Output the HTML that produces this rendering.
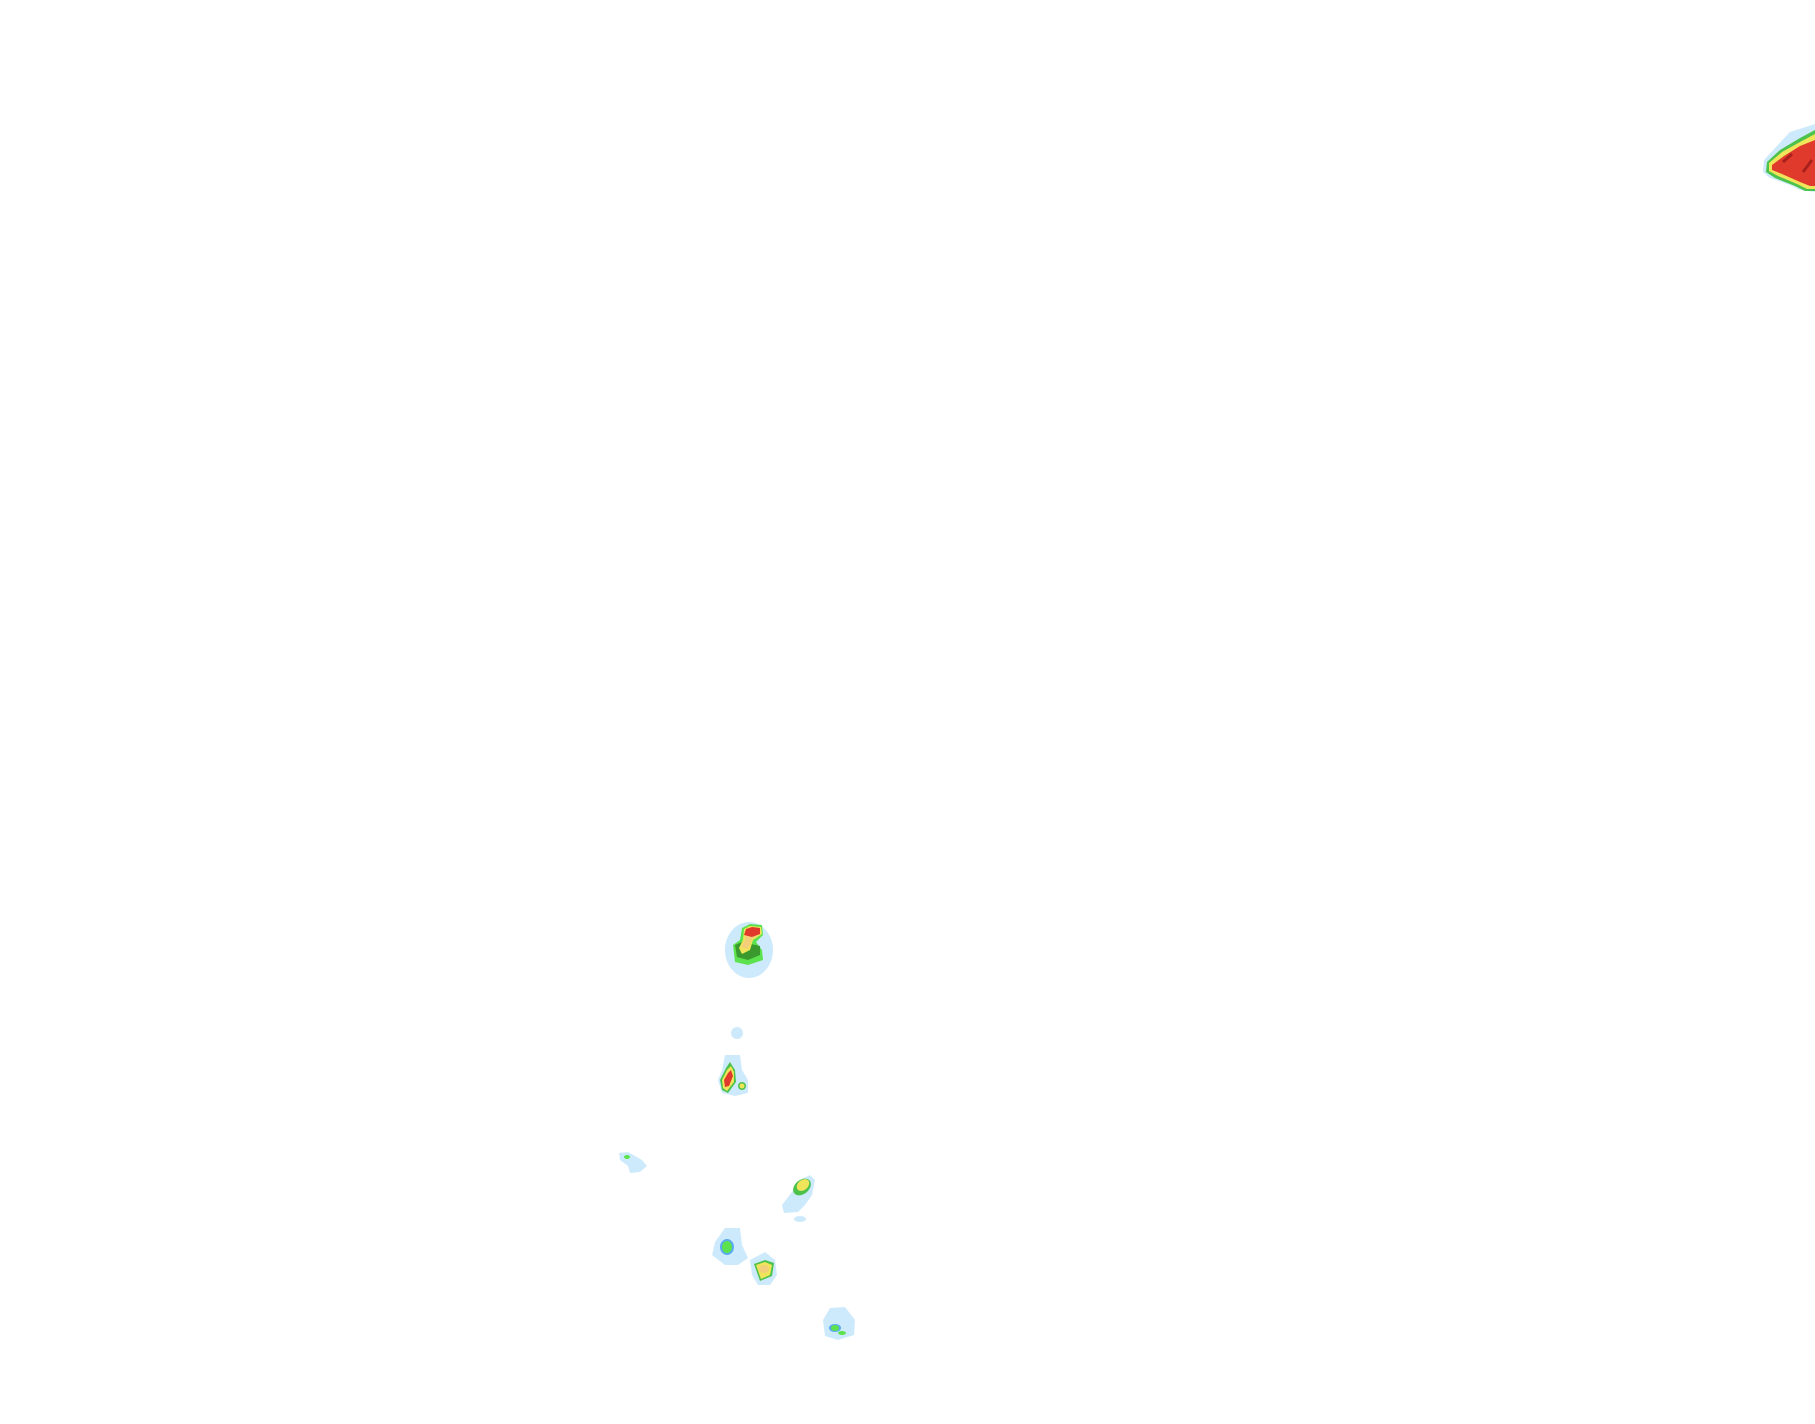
<!DOCTYPE html>
<html><head><meta charset="utf-8"><style>html,body{margin:0;padding:0;background:#fff;width:1815px;height:1424px;overflow:hidden}</style></head>
<body>
<svg width="1815" height="1424" viewBox="0 0 1815 1424" xmlns="http://www.w3.org/2000/svg">
<!-- top right -->
<path d="M1815,124 L1790,132 L1775,148 L1764,160 L1763,172 L1770,178 L1790,185 L1800,190 L1815,192 Z" fill="#cdeafc"/>
<path d="M1815,130 L1800,138 L1780,150 L1767,162 L1766,172 L1775,178 L1795,186 L1805,191 L1815,191 Z" fill="#4cc24c"/>
<path d="M1815,134 L1800,142 L1782,152 L1769,163 L1769,171 L1778,176 L1797,184 L1807,189 L1815,189 Z" fill="#f0e45a"/>
<path d="M1815,140 L1800,146 L1784,156 L1772,165 L1772,170 L1782,174 L1800,182 L1810,186 L1815,186 Z" fill="#e03a2c"/>
<path d="M1783,162 L1792,154 M1803,172 L1812,160" stroke="#a8201c" stroke-width="3"/>
<!-- blob 1 -->
<ellipse cx="749" cy="950" rx="24" ry="28" fill="#cdeafc"/>
<path d="M733,945 L740,940 L742,928 L750,924 L762,925 L763,935 L756,942 L762,950 L763,960 L748,965 L735,962 Z" fill="#5ce24c"/>
<path d="M735,945 L742,942 L760,946 L760,955 L748,960 L737,957 Z" fill="#3a9a2e"/>
<path d="M739,948 L743,940 L744,929 L750,926 L761,927 L762,934 L753,940 L750,950 L742,954 Z" fill="#f0e45a"/>
<path d="M741,947 L745,940 L746,931 L752,928 L760,929 L760,934 L752,939 L748,949 Z" fill="#f3cf7a"/>
<path d="M744,935 L746,929 L752,927 L760,928 L760,934 L752,937 Z" fill="#e03a2c"/>
<!-- small dot -->
<circle cx="737" cy="1033" r="6" fill="#cdeafc"/>
<!-- blob 2 -->
<path d="M725,1055 L740,1055 L742,1070 L748,1080 L748,1093 L735,1096 L722,1093 L718,1080 L722,1070 Z" fill="#cdeafc"/>
<path d="M730,1062 L735,1070 L736,1082 L728,1093 L722,1090 L720,1080 L726,1068 Z" fill="#4cc24c"/>
<path d="M731,1066 L734,1072 L734,1082 L727,1091 L723,1088 L722,1080 L727,1070 Z" fill="#f0e45a"/>
<path d="M731,1070 L733,1076 L729,1086 L725,1087 L724,1080 L728,1073 Z" fill="#e03a2c"/>
<circle cx="742" cy="1086" r="4" fill="#4cc24c"/><circle cx="742" cy="1086" r="2.5" fill="#f0e45a"/>
<!-- blob 3 -->
<path d="M619,1153 L628,1152 L642,1160 L647,1166 L640,1172 L630,1173 L628,1166 L620,1160 Z" fill="#cdeafc"/>
<ellipse cx="627" cy="1157" rx="3" ry="2" fill="#5ce24c"/>
<!-- blob 4 -->
<path d="M810,1175 L815,1180 L812,1195 L805,1205 L798,1212 L784,1213 L782,1205 L792,1192 L800,1180 Z" fill="#cdeafc"/>
<ellipse cx="802" cy="1187" rx="10" ry="7" transform="rotate(-40 802 1187)" fill="#4cc24c"/>
<ellipse cx="803" cy="1185" rx="7" ry="5" transform="rotate(-40 803 1185)" fill="#f0e45a"/>
<ellipse cx="800" cy="1219" rx="6" ry="3" fill="#cdeafc"/>
<!-- blob 5 -->
<path d="M725,1228 L740,1228 L742,1245 L748,1258 L738,1265 L725,1265 L712,1255 L715,1242 Z" fill="#cdeafc"/>
<ellipse cx="727" cy="1247" rx="7" ry="8" fill="#5aaaf0"/>
<ellipse cx="727" cy="1247" rx="5" ry="6" fill="#5ce24c"/>
<!-- blob 6 -->
<path d="M750,1260 L765,1252 L775,1260 L777,1275 L770,1285 L758,1285 L752,1275 Z" fill="#cdeafc"/>
<path d="M754,1264 L765,1260 L774,1263 L772,1276 L760,1281 Z" fill="#4cc24c"/>
<path d="M756,1265 L765,1262 L772,1265 L770,1275 L761,1279 Z" fill="#f0e45a"/>
<ellipse cx="764" cy="1269" rx="5" ry="4" fill="#f3cf7a"/>
<!-- blob 7 -->
<path d="M830,1308 L845,1307 L855,1320 L854,1335 L838,1340 L825,1336 L823,1320 Z" fill="#cdeafc"/>
<ellipse cx="835" cy="1328" rx="6" ry="4" fill="#5aaaf0"/>
<ellipse cx="835" cy="1328" rx="4" ry="3" fill="#5ce24c"/>
<ellipse cx="842" cy="1333" rx="4" ry="2" fill="#5ce24c"/>
</svg>
</body></html>
